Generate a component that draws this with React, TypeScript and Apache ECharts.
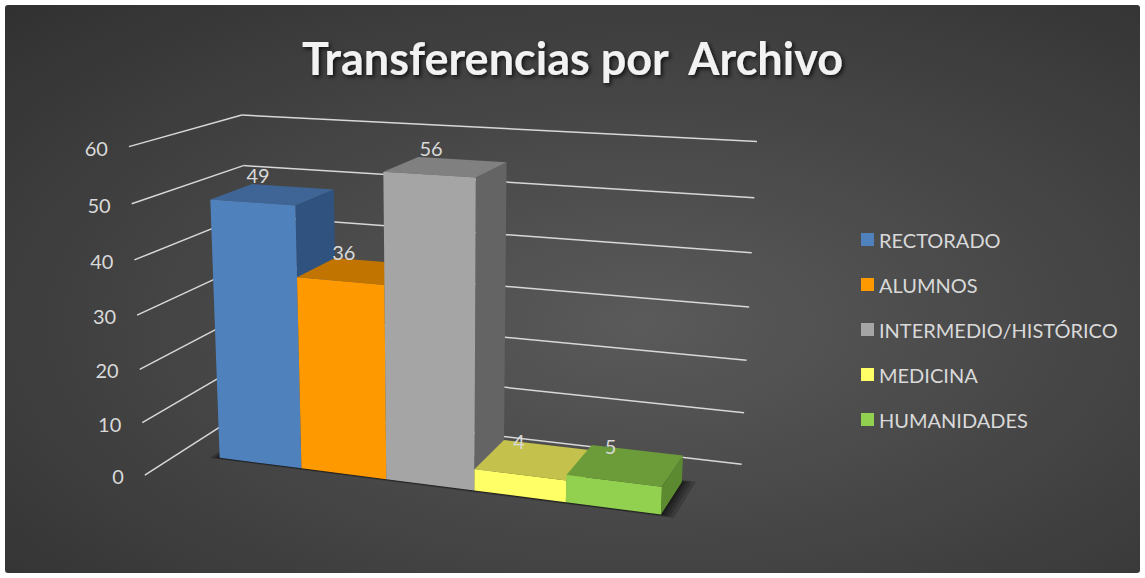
import React, { useEffect, useRef } from "react";
import * as echarts from "echarts";

// ---------- data ----------
const TITLE = "Transferencias por  Archivo";
const categories = ["RECTORADO", "ALUMNOS", "INTERMEDIO/HISTÓRICO", "MEDICINA", "HUMANIDADES"];
const values = [49, 36, 56, 4, 5];
const yTicks = [0, 10, 20, 30, 40, 50, 60];
const Y_MIN = 0;
const Y_MAX = 60;
const Y_STEP = 10;

// ---------- style ----------
const frontColors = ["#4f81bd", "#ff9900", "#a5a5a5", "#ffff66", "#92d050"];
const topColors = ["#3f6597", "#c27400", "#808080", "#c4c24c", "#6c9c3a"];
const sideColors = ["#2f527f", "#a86500", "#646464", "#a8a640", "#5c8a30"];
const GRID_COLOR = "#d8d8d8";
const TEXT_COLOR = "#d9d9d9";
const FONT = "Lato, 'Open Sans', sans-serif";

// ---------- 3D layout (in bar-width units) ----------
const GAP = 0.5; // empty space between wall ends and the bars
const DEPTH = 2.55; // depth of floor / left wall
const BAR_Z0 = 0.775; // bar front
const BAR_Z1 = 1.775; // bar back
const UNIT_PX = 94; // world size of one bar width
const GRID_H = 336; // world height of the value range

// ---------- camera ----------
const YAW = (20 * Math.PI) / 180;
const PITCH = (14.5 * Math.PI) / 180;
const FOCAL = 1650;
const DIST = 1650;
const CX = 446;
const CY = 311;

const ca = Math.cos(YAW);
const sa = Math.sin(YAW);
const cb = Math.cos(PITCH);
const sb = Math.sin(PITCH);

function project(X: number, Y: number, Z: number): number[] {
  const x1 = X * ca + Z * sa;
  const z1 = -X * sa + Z * ca;
  const y1 = Y;
  const yc = y1 * cb + z1 * sb;
  const zc = -y1 * sb + z1 * cb + DIST;
  return [CX + (FOCAL * x1) / zc, CY - (FOCAL * yc) / zc];
}

// world built from the cartesian scales of the (hidden) grid
function makeWorld(api: any) {
  const n = categories.length;
  const o = api.coord([-GAP, Y_MIN]);
  const e = api.coord([n + GAP, Y_MAX]);
  const u = api.coord([1, Y_MIN])[0] - api.coord([0, Y_MIN])[0];
  const W = e[0] - o[0];
  const H = o[1] - e[1];
  const D = DEPTH * u;
  return (x: number, v: number, z: number) => {
    const c = api.coord([x, v]);
    return project(c[0] - o[0] - W / 2, o[1] - c[1] - H / 2, z * u - D / 2);
  };
}

export default function App() {
  const ref = useRef<HTMLDivElement>(null);

  useEffect(() => {
    if (!ref.current) return;
    const chart = echarts.init(ref.current, undefined, { renderer: "svg" });
    const n = categories.length;

    const wallSeries: any = {
      type: "custom",
      z: 1,
      silent: true,
      clip: false,
      data: yTicks.map((t) => [-GAP, t]),
      renderItem: (params: any, api: any) => {
        const P = makeWorld(api);
        const v = api.value(1);
        const a = P(-GAP, v, 0);
        const b = P(-GAP, v, DEPTH);
        const c = P(n + GAP, v, DEPTH);
        return {
          type: "group",
          children: [
            { type: "line", shape: { x1: a[0], y1: a[1], x2: b[0], y2: b[1] }, style: { stroke: GRID_COLOR, lineWidth: 1.5 } },
            { type: "line", shape: { x1: b[0], y1: b[1], x2: c[0], y2: c[1] }, style: { stroke: GRID_COLOR, lineWidth: 1.5 } },
            {
              type: "text",
              x: a[0] - 21,
              y: a[1] + 1,
              style: { text: String(v), fill: TEXT_COLOR, font: `20px ${FONT}`, align: "right", verticalAlign: "middle" },
            },
          ],
        };
      },
    };

    // soft floor shadow made of stacked translucent footprints
    const shadowSeries: any = {
      type: "custom",
      z: 2,
      silent: true,
      clip: false,
      data: [[0, 0]],
      renderItem: (params: any, api: any) => {
        const P = makeWorld(api);
        const layers = [0.2, 0.14, 0.09, 0.05, 0.02];
        return {
          type: "group",
          children: layers.map((g) => ({
            type: "polygon",
            shape: {
              points: [
                P(-g * 0.5, 0, BAR_Z0 - g * 0.25),
                P(n + g * 0.7, 0, BAR_Z0 - g * 0.25),
                P(n + g * 0.7, 0, BAR_Z1 + g * 0.3),
                P(-g * 0.5, 0, BAR_Z1 + g * 0.3),
              ],
            },
            style: { fill: "rgba(0,0,0,0.18)" },
          })),
        };
      },
    };

    const barSeries: any[] = categories.map((name, i) => ({
      type: "custom",
      name,
      z: 3 + i,
      silent: true,
      clip: false,
      itemStyle: { color: frontColors[i] },
      data: [[i, values[i]]],
      renderItem: (params: any, api: any) => {
        const P = makeWorld(api);
        const x0 = api.value(0);
        const x1 = x0 + 1;
        const v = api.value(1);
        const fBL = P(x0, 0, BAR_Z0);
        const fBR = P(x1, 0, BAR_Z0);
        const fTR = P(x1, v, BAR_Z0);
        const fTL = P(x0, v, BAR_Z0);
        const bTL = P(x0, v, BAR_Z1);
        const bTR = P(x1, v, BAR_Z1);
        const bBR = P(x1, 0, BAR_Z1);
        const lbl = P(x0 + 0.5, v, (BAR_Z0 + BAR_Z1) / 2);
        return {
          type: "group",
          children: [
            { type: "polygon", shape: { points: [fBR, bBR, bTR, fTR] }, style: { fill: sideColors[i] } },
            { type: "polygon", shape: { points: [fTL, fTR, bTR, bTL] }, style: { fill: topColors[i] } },
            { type: "polygon", shape: { points: [fBL, fBR, fTR, fTL] }, style: { fill: frontColors[i] } },
            {
              type: "text",
              x: lbl[0] - 15,
              y: lbl[1] - 19,
              z2: 10,
              style: { text: String(v), fill: TEXT_COLOR, font: `20px ${FONT}`, align: "center", verticalAlign: "middle" },
            },
          ],
        };
      },
    }));

    chart.setOption({
      animation: false,
      backgroundColor: "#ffffff",
      title: {
        text: TITLE,
        left: "center",
        top: 30,
        textStyle: {
          color: "#f2f2f2",
          fontFamily: FONT,
          fontWeight: "bold",
          fontSize: 45,
          textShadowColor: "rgba(0,0,0,0.75)",
          textShadowBlur: 4,
          textShadowOffsetX: 2,
          textShadowOffsetY: 2,
        },
      },
      graphic: [
        {
          type: "rect",
          z: 0,
          silent: true,
          shape: { x: 5, y: 5, width: 1135, height: 568, r: 3 },
          style: {
            fill: new echarts.graphic.RadialGradient(0.56, 0.56, 1.0, [
              { offset: 0, color: "#5a5a5a" },
              { offset: 1, color: "#262626" },
            ]),
          },
        },
      ],
      legend: {
        orient: "vertical",
        left: 856,
        top: 224,
        itemWidth: 13,
        itemHeight: 13,
        itemGap: 24,
        icon: "rect",
        selectedMode: false,
        textStyle: { color: TEXT_COLOR, fontSize: 20, fontFamily: FONT, lineHeight: 21 },
        data: categories.map((name, i) => ({ name, itemStyle: { color: frontColors[i] } })),
      },
      grid: { left: 0, top: 0, width: (n + 2 * GAP) * UNIT_PX, height: GRID_H, show: false },
      xAxis: { type: "value", min: -GAP, max: n + GAP, show: false },
      yAxis: { type: "value", min: Y_MIN, max: Y_MAX, interval: Y_STEP, show: false },
      series: [wallSeries, shadowSeries, ...barSeries],
    });

    return () => chart.dispose();
  }, []);

  return <div ref={ref} style={{ position: "absolute", left: 0, top: 0, width: 1145, height: 578 }} />;
}
